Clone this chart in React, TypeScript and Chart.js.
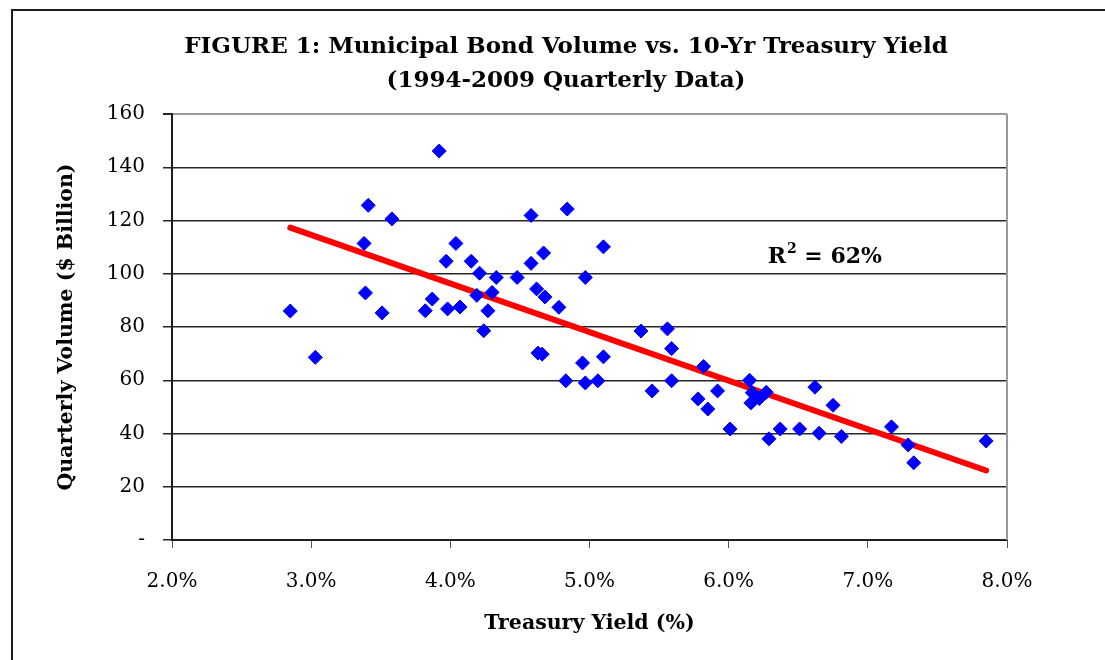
import React, { useEffect, useRef } from 'react';
import { Chart, registerables } from 'chart.js';

Chart.register(...registerables);

// Treasury yield (%) for each quarter, 1994-2009
const yieldPct = [
  2.85, 3.03, 3.38, 3.41, 3.39, 3.51, 3.58, 3.82, 3.87, 3.92,
  3.97, 3.98, 4.04, 4.07, 4.15, 4.19, 4.21, 4.24, 4.27, 4.30,
  4.33, 4.48, 4.58, 4.58, 4.62, 4.63, 4.66, 4.67, 4.68, 4.78,
  4.83, 4.84, 4.95, 4.97, 4.97, 5.06, 5.10, 5.10, 5.37, 5.45,
  5.56, 5.59, 5.59, 5.78, 5.82, 5.85, 5.92, 6.01, 6.15, 6.16,
  6.17, 6.22, 6.27, 6.29, 6.37, 6.51, 6.62, 6.65, 6.75, 6.81,
  7.17, 7.29, 7.33, 7.85,
];

// Quarterly municipal bond volume ($ billion)
const volume = [
  86.0, 68.6, 111.4, 125.7, 92.8, 85.3, 120.6, 86.1, 90.5, 146.1,
  104.7, 86.8, 111.4, 87.5, 104.7, 91.9, 100.2, 78.6, 86.1, 93.0,
  98.6, 98.6, 121.9, 103.9, 94.3, 70.2, 69.8, 107.8, 91.3, 87.4,
  59.8, 124.3, 66.5, 98.6, 59.0, 59.8, 68.8, 110.1, 78.5, 56.0,
  79.3, 71.9, 59.8, 53.0, 65.2, 49.2, 56.0, 41.7, 60.0, 51.5,
  55.3, 53.1, 55.5, 38.0, 41.7, 41.7, 57.4, 40.1, 50.6, 38.9,
  42.5, 35.7, 29.0, 37.2,
];

// Linear trend line end points
const trendX = [2.85, 7.85];
const trendY = [117.3, 26.1];

const yTickValues = [0, 20, 40, 60, 80, 100, 120, 140, 160];
const yTickLabels = ['-', '20', '40', '60', '80', '100', '120', '140', '160'];
const xTickValues = [2, 3, 4, 5, 6, 7, 8];
const xTickLabels = ['2.0%', '3.0%', '4.0%', '5.0%', '6.0%', '7.0%', '8.0%'];

const titleLines = [
  'FIGURE 1: Municipal Bond Volume vs. 10-Yr Treasury Yield',
  '(1994-2009 Quarterly Data)',
];
const xAxisTitle = 'Treasury Yield (%)';
const yAxisTitle = 'Quarterly Volume ($ Billion)';
const rSquaredLabel = { base: 'R', sup: '2', rest: ' = 62%' };
const rSquaredAt = { x: 6.28, y: 104.2 };

const FONT = "'DejaVu Serif', serif";

const decorPlugin = {
  id: 'decor',
  beforeDraw(chart: any) {
    const { ctx, width, height } = chart;
    ctx.save();
    ctx.fillStyle = '#ffffff';
    ctx.fillRect(0, 0, width, height);
    ctx.restore();
  },
  afterDraw(chart: any) {
    const { ctx, chartArea } = chart;
    ctx.save();
    // outer frame
    ctx.strokeStyle = '#1e1e1e';
    ctx.lineWidth = 2;
    ctx.beginPath();
    ctx.moveTo(12, 662);
    ctx.lineTo(12, 10);
    ctx.lineTo(1110, 10);
    ctx.stroke();

    // right plot border
    ctx.strokeStyle = '#9a9a9a';
    ctx.lineWidth = 2;
    ctx.beginPath();
    ctx.moveTo(chartArea.right, chartArea.top);
    ctx.lineTo(chartArea.right, chartArea.bottom);
    ctx.stroke();

    // title
    ctx.fillStyle = '#000';
    ctx.textAlign = 'center';
    ctx.textBaseline = 'middle';
    ctx.font = `bold 23px ${FONT}`;
    ctx.fillText(titleLines[0], 566, 47);
    ctx.fillText(titleLines[1], 566, 81);

    // R squared
    const xs = chart.scales.x;
    const ys = chart.scales.y;
    let x = xs.getPixelForValue(rSquaredAt.x);
    const y = ys.getPixelForValue(rSquaredAt.y);
    ctx.textAlign = 'left';
    ctx.textBaseline = 'alphabetic';
    ctx.font = `bold 22px ${FONT}`;
    ctx.fillText(rSquaredLabel.base, x, y);
    x += ctx.measureText(rSquaredLabel.base).width + 1;
    ctx.font = `bold 14px ${FONT}`;
    ctx.fillText(rSquaredLabel.sup, x, y - 10);
    x += ctx.measureText(rSquaredLabel.sup).width;
    ctx.font = `bold 22px ${FONT}`;
    ctx.fillText(rSquaredLabel.rest, x, y);
    ctx.restore();
  },
};

export default function App() {
  const canvasRef = useRef<HTMLCanvasElement | null>(null);

  useEffect(() => {
    const canvas = canvasRef.current;
    if (!canvas) return;
    const points = yieldPct.map((v, i) => ({ x: v, y: volume[i] }));
    const trend = trendX.map((v, i) => ({ x: v, y: trendY[i] }));

    const chart = new Chart(canvas, {
      type: 'scatter',
      data: {
        datasets: [
          {
            label: 'Volume',
            data: points,
            order: 0,
            pointStyle: 'rectRot',
            pointRadius: 7,
            pointBackgroundColor: '#0000ff',
            pointBorderColor: '#0000ff',
            pointBorderWidth: 1,
            showLine: false,
          },
          {
            label: 'Trend',
            data: trend,
            order: 1,
            showLine: true,
            borderColor: '#ff0000',
            borderWidth: 6,
            borderCapStyle: 'round',
            pointRadius: 0,
            pointHoverRadius: 0,
          },
        ],
      },
      options: {
        animation: false,
        responsive: false,
        devicePixelRatio: 1,
        layout: { padding: { left: 0, right: 98, top: 114, bottom: 0 } },
        plugins: {
          legend: { display: false },
          title: { display: false },
          tooltip: { enabled: false },
        },
        scales: {
          x: {
            type: 'linear',
            min: 2,
            max: 8,
            afterFit: (s: any) => {
              s.height = 120;
            },
            afterBuildTicks: (s: any) => {
              s.ticks = xTickValues.map((v) => ({ value: v }));
            },
            ticks: {
              color: '#000',
              font: { family: FONT, size: 20 },
              padding: 22,
              maxRotation: 0,
              callback: (v: any) => {
                const i = xTickValues.indexOf(Number(v));
                return i >= 0 ? xTickLabels[i] : '';
              },
            },
            grid: {
              display: true,
              drawOnChartArea: false,
              drawTicks: true,
              tickLength: 8,
              tickColor: '#555',
              lineWidth: 1,
            },
            border: { display: true, color: '#1e1e1e', width: 2 },
            title: {
              display: true,
              text: xAxisTitle,
              color: '#000',
              font: { family: FONT, size: 20.5, weight: 'bold' },
              padding: { top: 0, bottom: 24 },
            },
          },
          y: {
            type: 'linear',
            min: 0,
            max: 160,
            afterFit: (s: any) => {
              s.width = 172;
            },
            afterBuildTicks: (s: any) => {
              s.ticks = yTickValues.map((v) => ({ value: v }));
            },
            ticks: {
              color: '#000',
              font: { family: FONT, size: 20 },
              padding: 18,
              callback: (v: any) => {
                const i = yTickValues.indexOf(Number(v));
                return i >= 0 ? yTickLabels[i] : '';
              },
            },
            grid: {
              display: true,
              drawOnChartArea: true,
              drawTicks: true,
              tickLength: 9,
              color: (c: any) => (c.tick && c.tick.value === 160 ? '#9a9a9a' : '#262626'),
              tickColor: '#262626',
              lineWidth: (c: any) => (c.tick && c.tick.value === 160 ? 2 : 1.5),
            },
            border: { display: true, color: '#1e1e1e', width: 2 },
            title: {
              display: true,
              text: yAxisTitle,
              color: '#000',
              font: { family: FONT, size: 20.5, weight: 'bold' },
              padding: { top: 54, bottom: 0 },
            },
          },
        },
      },
      plugins: [decorPlugin],
    } as any);

    return () => {
      chart.destroy();
    };
  }, []);

  return (
    <div style={{ position: 'fixed', left: 0, top: 0, width: 1105, height: 660, background: '#fff' }}>
      <canvas ref={canvasRef} width={1105} height={660} style={{ display: 'block' }} />
    </div>
  );
}
